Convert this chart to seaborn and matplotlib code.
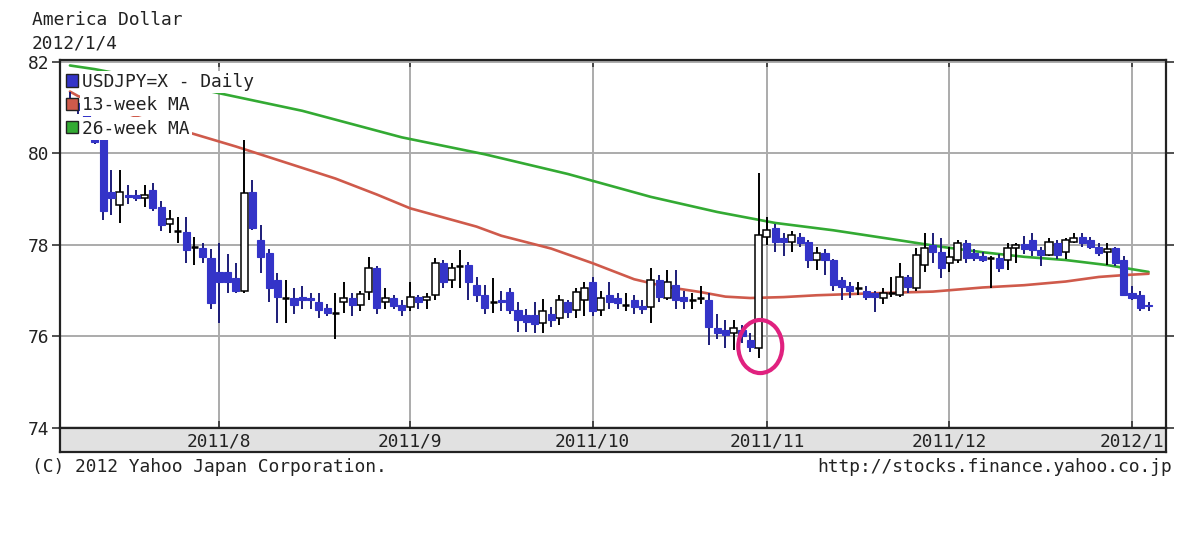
import numpy as np
import pandas as pd
import matplotlib
matplotlib.use("Agg")
import matplotlib.pyplot as plt
import matplotlib.transforms as mtransforms
from matplotlib.patches import Patch, Ellipse
import seaborn as sns

# ---------------- data ----------------
TITLE = "America Dollar"
DATE_LABEL = "2012/1/4"
SERIES_NAME = "USDJPY=X - Daily"
MA13_NAME = "13-week MA"
MA26_NAME = "26-week MA"
FOOT_LEFT = "(C) 2012 Yahoo Japan Corporation."
FOOT_RIGHT = "http://stocks.finance.yahoo.co.jp"
START_DATE, END_DATE = "2011-07-06", "2012-01-04"
y_ticks = [74, 76, 78, 80, 82]

opens = [81.20, 81.10, 80.95, 80.40, 80.35, 79.15, 78.87, 79.10, 79.08, 79.02,
         79.20, 78.83, 78.46, 78.30, 78.28, 77.96, 77.93, 77.71, 77.40, 77.40,
         77.28, 77.00, 79.16, 78.10, 77.83, 77.24, 76.84, 76.84, 76.86, 76.85,
         76.75, 76.62, 76.51, 76.75, 76.84, 76.69, 76.97, 77.50, 76.75, 76.84,
         76.69, 76.64, 76.86, 76.80, 76.91, 77.60, 77.24, 77.54, 77.56, 77.12,
         76.91, 76.75, 76.80, 76.97, 76.58, 76.47, 76.47, 76.30, 76.50, 76.40,
         76.75, 76.58, 76.80, 77.19, 76.58, 76.91, 76.84, 76.69, 76.80, 76.66,
         76.64, 77.24, 76.84, 77.12, 76.86, 76.80, 76.84, 76.80, 76.19, 76.14,
         76.08, 76.15, 75.92, 75.75, 78.17, 78.37, 78.15, 78.07, 78.17, 78.07,
         77.67, 77.83, 77.67, 77.24, 77.10, 77.06, 77.00, 76.95, 76.84, 76.95,
         76.91, 77.30, 77.06, 77.56, 78.00, 77.85, 77.60, 77.67, 78.04, 77.83,
         77.76, 77.72, 77.72, 77.67, 77.93, 78.02, 78.11, 77.89, 77.78, 78.04,
         77.85, 78.07, 78.17, 78.11, 77.96, 77.85, 77.93, 77.67, 76.95, 76.91,
         76.68]
highs = [81.35, 81.20, 81.05, 80.45, 80.40, 79.64, 79.64, 79.30, 79.20, 79.30,
         79.35, 78.95, 78.77, 78.60, 78.60, 78.17, 78.05, 77.90, 78.04, 77.80,
         77.60, 80.30, 79.42, 78.44, 77.90, 77.39, 77.24, 77.05, 77.10, 76.95,
         76.95, 76.70, 76.95, 77.19, 76.95, 77.00, 77.74, 77.55, 77.05, 76.90,
         76.80, 77.20, 76.90, 76.95, 77.71, 77.66, 77.60, 77.89, 77.62, 77.30,
         77.12, 77.28, 77.00, 77.05, 76.75, 76.60, 76.75, 76.82, 76.65, 76.90,
         76.80, 77.05, 77.20, 77.30, 77.00, 77.20, 76.95, 76.95, 76.90, 76.80,
         77.50, 77.35, 77.45, 77.45, 77.00, 76.95, 77.10, 76.95, 76.50, 76.36,
         76.36, 76.25, 76.08, 79.57, 78.61, 78.45, 78.25, 78.30, 78.25, 78.10,
         77.95, 77.90, 77.70, 77.30, 77.20, 77.20, 77.10, 77.00, 77.05, 77.30,
         77.60, 77.35, 77.93, 78.26, 78.26, 78.15, 77.95, 78.10, 78.10, 77.90,
         77.85, 77.76, 77.80, 78.05, 78.05, 78.20, 78.25, 77.96, 78.15, 78.10,
         78.15, 78.26, 78.26, 78.17, 78.05, 78.04, 77.96, 77.75, 77.10, 77.00,
         76.75]
lows = [80.95, 80.85, 80.80, 80.20, 78.55, 78.66, 78.48, 78.90, 78.95, 78.83,
        78.75, 78.30, 78.26, 78.04, 77.60, 77.56, 77.60, 76.60, 76.30, 76.95,
        76.95, 76.95, 78.33, 77.39, 76.75, 76.30, 76.30, 76.50, 76.60, 76.60,
        76.40, 76.45, 75.94, 76.51, 76.45, 76.55, 76.80, 76.50, 76.60, 76.60,
        76.45, 76.55, 76.60, 76.60, 76.80, 77.05, 77.05, 77.06, 76.80, 76.75,
        76.50, 76.51, 76.55, 76.50, 76.10, 76.10, 76.08, 76.08, 76.20, 76.25,
        76.40, 76.40, 76.45, 76.45, 76.45, 76.60, 76.60, 76.55, 76.50, 76.50,
        76.30, 76.75, 76.80, 76.60, 76.60, 76.60, 76.70, 75.81, 75.95, 75.75,
        75.70, 75.85, 75.65, 75.53, 78.00, 77.85, 77.75, 77.85, 77.95, 77.50,
        77.45, 77.35, 77.00, 76.80, 76.85, 76.90, 76.80, 76.53, 76.70, 76.86,
        76.86, 76.95, 77.00, 77.41, 77.60, 77.28, 77.40, 77.60, 77.60, 77.65,
        77.62, 77.06, 77.40, 77.45, 77.60, 77.80, 77.75, 77.55, 77.75, 77.70,
        77.70, 78.04, 77.95, 77.90, 77.75, 77.56, 77.55, 76.88, 76.80, 76.55,
        76.55]
closes = [81.05, 80.95, 80.80, 80.25, 78.75, 79.03, 79.16, 79.05, 79.03, 79.10,
          78.80, 78.44, 78.56, 78.30, 77.89, 77.96, 77.74, 76.73, 77.19, 77.20,
          77.00, 79.14, 78.37, 77.74, 77.06, 76.86, 76.84, 76.69, 76.80, 76.80,
          76.58, 76.51, 76.51, 76.84, 76.69, 76.93, 77.50, 76.62, 76.84, 76.66,
          76.58, 76.86, 76.75, 76.86, 77.60, 77.19, 77.50, 77.54, 77.19, 76.91,
          76.62, 76.75, 76.75, 76.58, 76.36, 76.32, 76.28, 76.55, 76.36, 76.80,
          76.53, 76.97, 77.06, 76.55, 76.84, 76.75, 76.73, 76.69, 76.64, 76.60,
          77.24, 76.86, 77.19, 76.80, 76.78, 76.80, 76.84, 76.21, 76.08, 76.03,
          76.19, 76.00, 75.77, 78.22, 78.33, 78.07, 78.07, 78.22, 78.04, 77.67,
          77.83, 77.67, 77.12, 77.08, 77.00, 77.06, 76.86, 76.86, 76.95, 76.95,
          77.30, 77.08, 77.78, 77.93, 77.85, 77.50, 77.74, 78.04, 77.72, 77.72,
          77.68, 77.72, 77.50, 77.93, 78.00, 77.92, 77.89, 77.78, 78.07, 77.78,
          78.11, 78.15, 78.04, 77.96, 77.83, 77.90, 77.60, 76.91, 76.84, 76.62,
          76.66]

ma13_idx = [0, 1, 8, 15, 20, 26, 32, 37, 41, 45, 49, 52, 58, 63, 68, 72, 76, 79,
            82, 86, 90, 98, 104, 110, 115, 120, 124, 127, 130]
ma13_val = [81.35, 81.25, 80.80, 80.42, 80.15, 79.80, 79.45, 79.10, 78.80, 78.60,
            78.40, 78.20, 77.92, 77.60, 77.25, 77.08, 76.97, 76.87, 76.84, 76.86,
            76.90, 76.95, 76.98, 77.07, 77.12, 77.20, 77.30, 77.34, 77.37]
ma26_idx = [0, 3, 16, 28, 40, 50, 60, 70, 78, 85, 92, 100, 105, 110, 115, 120,
            125, 128, 130]
ma26_val = [81.92, 81.84, 81.39, 80.93, 80.35, 79.98, 79.55, 79.05, 78.72, 78.48,
            78.32, 78.10, 77.96, 77.84, 77.74, 77.67, 77.56, 77.47, 77.41]

# ---------------- styling ----------------
BLUE = "#3434c8"
BLUE_WICK = "#1c1c78"
RED = "#cf5a4b"
GREEN = "#33aa33"
MAGENTA = "#e0217f"
GRID = "#ababab"
FS = 12.9

sns.set_theme(style="white")
plt.rcParams["font.family"] = ["DejaVu Sans Mono", "DejaVu Sans"]

dates = pd.bdate_range(START_DATE, END_DATE)
n = len(dates)
idx = np.arange(n)
o = np.array(opens); h = np.array(highs); l = np.array(lows); c = np.array(closes)

W, H = 1200, 553
fig = plt.figure(figsize=(W / 100, H / 100), dpi=100)
fig.patch.set_facecolor("white")
ax = fig.add_axes([60 / W, 1 - 428 / H, 1106 / W, 368 / H])
band = fig.add_axes([60 / W, 1 - 452 / H, 1106 / W, 24 / H], sharex=ax)

# moving averages
sns.lineplot(x=ma26_idx, y=ma26_val, ax=ax, color=GREEN, lw=1.9, zorder=2.5, legend=False)
sns.lineplot(x=ma13_idx, y=ma13_val, ax=ax, color=RED, lw=1.9, zorder=2.5, legend=False)

# candles
up = c > o
doji = np.isclose(o, c)
down = (~up) & (~doji)
wick_col = np.where(down, BLUE_WICK, "black")
ax.vlines(idx, l, h, colors=wick_col, lw=1.4, zorder=3)
bw = 0.85
ax.bar(idx[up], (c - o)[up], bottom=o[up], width=bw, color="white",
       edgecolor="black", lw=1.1, zorder=4)
ax.bar(idx[down], (o - c)[down], bottom=c[down], width=bw, color=BLUE,
       edgecolor=BLUE, lw=0.8, zorder=4)
ax.hlines(c[doji], idx[doji] - bw / 2, idx[doji] + bw / 2, colors="black", lw=1.8, zorder=4)

# highlight circle around the intervention candle
spike = int(np.argmax(h - l))
ax.add_patch(Ellipse((spike + 0.2, l[spike] + 0.25), 5.3, 1.16, fill=False,
                     edgecolor=MAGENTA, lw=3, zorder=6))

# axes limits / ticks
month_pos = [i for i in range(1, n) if dates[i].month != dates[i - 1].month]
month_lab = [f"{dates[i].year}/{dates[i].month}" for i in month_pos]
ax.set_xlim(-1.2, 132.1)
ax.set_ylim(74, 82.04)
ax.set_xticks(month_pos)
ax.set_xticklabels([])
ax.set_yticks(y_ticks)
ax.set_yticklabels([str(v) for v in y_ticks], fontsize=FS)
ax.grid(True, color=GRID, lw=1.4, zorder=0)
ax.set_axisbelow(True)
ax.tick_params(axis="x", direction="in", length=5, width=1.2, top=True, bottom=True,
               color="#333333")
ax.tick_params(axis="y", direction="out", length=6, width=1.2, left=True, right=True,
               labelleft=True, labelright=False, pad=2, color="#333333", labelcolor="#222222")
for s in ax.spines.values():
    s.set_color("#222222"); s.set_linewidth(1.6)

band.set_facecolor("#e1e1e1")
band.set_yticks([])
band.tick_params(axis="x", length=0, labelbottom=False)
for s in band.spines.values():
    s.set_color("#222222"); s.set_linewidth(1.6)
tr = mtransforms.blended_transform_factory(band.transData, band.transAxes)
for p, lab in zip(month_pos, month_lab):
    band.text(p, 0.45, lab, transform=tr, ha="center", va="center", fontsize=FS,
              color="#222222")

# legend
handles = [Patch(facecolor=BLUE, edgecolor="#222222", lw=1),
           Patch(facecolor=RED, edgecolor="#222222", lw=1),
           Patch(facecolor=GREEN, edgecolor="#222222", lw=1)]
leg = ax.legend(handles, [SERIES_NAME, MA13_NAME, MA26_NAME], loc="upper left",
                bbox_to_anchor=(0.0054, 0.965), frameon=False, fontsize=FS,
                handlelength=0.67, handleheight=0.67, handletextpad=0.25,
                labelspacing=0.3, borderpad=0, borderaxespad=0)
leg.set_zorder(10)
for t in leg.get_texts():
    t.set_color("#222222")
    t.set_bbox(dict(facecolor="white", edgecolor="none", pad=1.5))

# header / footer text
fig.text(32 / W, 1 - 20 / H, TITLE, ha="left", va="center", fontsize=FS, color="#222222")
fig.text(32 / W, 1 - 43 / H, DATE_LABEL, ha="left", va="center", fontsize=FS, color="#222222")
fig.text(32 / W, 1 - 467 / H, FOOT_LEFT, ha="left", va="center", fontsize=FS, color="#222222")
fig.text(1172 / W, 1 - 467 / H, FOOT_RIGHT, ha="right", va="center", fontsize=FS, color="#222222")

fig.savefig("out.png", dpi=100, facecolor="white")
